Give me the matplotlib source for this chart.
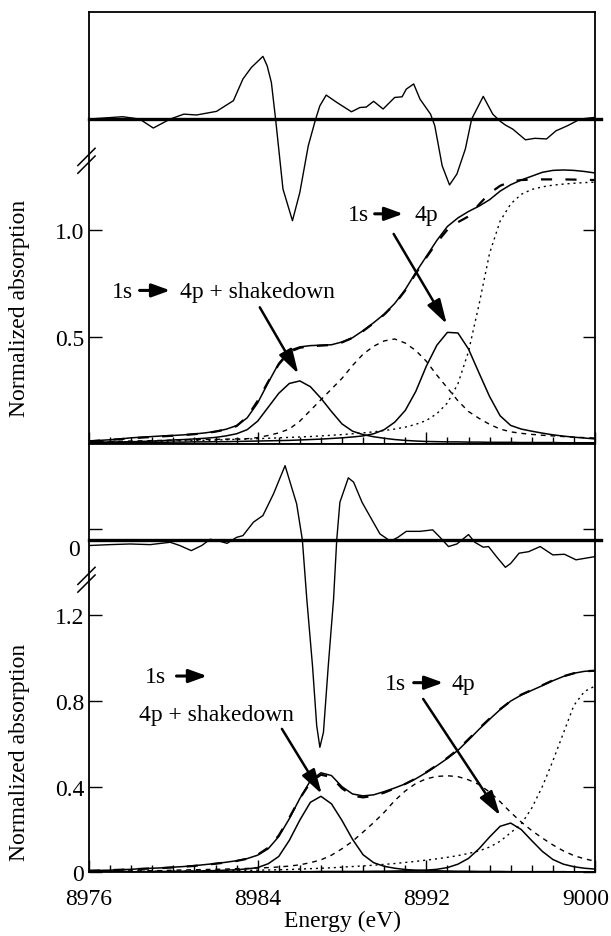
import numpy as np
import matplotlib
matplotlib.use("Agg")
import matplotlib.pyplot as plt
from matplotlib.ticker import MultipleLocator
from matplotlib.transforms import ScaledTranslation

plt.rcParams['font.family'] = ['Liberation Serif', 'DejaVu Serif']
plt.rcParams['font.size'] = 17

# energy grid (eV) shared by the fitted curves
energy = np.arange(8976, 9000.01, 0.5)

# ---- top panel ----
top_data = [0.012, 0.015, 0.018, 0.022, 0.027, 0.030, 0.033, 0.036, 0.038, 0.041,
            0.045, 0.050, 0.057, 0.067, 0.084, 0.120, 0.190, 0.285, 0.375, 0.435,
            0.452, 0.458, 0.460, 0.462, 0.475, 0.495, 0.528, 0.565, 0.605, 0.655,
            0.720, 0.800, 0.875, 0.950, 1.015, 1.055, 1.085, 1.110, 1.140, 1.180,
            1.210, 1.232, 1.250, 1.268, 1.277, 1.279, 1.277, 1.272, 1.265]
top_fit = [0.011, 0.014, 0.017, 0.021, 0.025, 0.028, 0.031, 0.034, 0.037, 0.040,
           0.044, 0.049, 0.056, 0.066, 0.082, 0.125, 0.200, 0.290, 0.370, 0.428,
           0.448, 0.455, 0.458, 0.461, 0.473, 0.494, 0.526, 0.563, 0.603, 0.652,
           0.716, 0.795, 0.870, 0.940, 1.000, 1.035, 1.062, 1.118, 1.170, 1.205,
           1.225, 1.232, 1.234, 1.235, 1.235, 1.235, 1.234, 1.233, 1.232]
top_shake = [0.006, 0.007, 0.007, 0.008, 0.009, 0.010, 0.012, 0.014, 0.017, 0.019,
             0.022, 0.025, 0.029, 0.036, 0.046, 0.065, 0.105, 0.170, 0.235, 0.281,
             0.293, 0.266, 0.212, 0.150, 0.092, 0.058, 0.042, 0.032, 0.025, 0.019,
             0.015, 0.012, 0.010, 0.009, 0.008, 0.008, 0.007, 0.007, 0.006, 0.006,
             0.006, 0.005, 0.005, 0.005, 0.005, 0.004, 0.004, 0.004, 0.004]
top_4p = [0.004, 0.004, 0.005, 0.005, 0.005, 0.005, 0.006, 0.006, 0.007, 0.007,
          0.008, 0.008, 0.009, 0.009, 0.010, 0.011, 0.012, 0.013, 0.014, 0.015,
          0.017, 0.019, 0.021, 0.024, 0.027, 0.031, 0.036, 0.046, 0.065, 0.100,
          0.155, 0.244, 0.362, 0.460, 0.520, 0.517, 0.442, 0.330, 0.220, 0.130,
          0.085, 0.068, 0.058, 0.049, 0.041, 0.035, 0.030, 0.026, 0.022]
top_mid = [0.008, 0.009, 0.010, 0.011, 0.012, 0.013, 0.014, 0.015, 0.016, 0.017,
           0.018, 0.019, 0.020, 0.021, 0.022, 0.023, 0.028, 0.038, 0.050, 0.068,
           0.105, 0.155, 0.205, 0.255, 0.305, 0.365, 0.418, 0.455, 0.480, 0.489,
           0.470, 0.435, 0.385, 0.320, 0.260, 0.200, 0.150, 0.118, 0.090, 0.068,
           0.055, 0.048, 0.043, 0.039, 0.036, 0.033, 0.030, 0.028, 0.026]
top_step = [0.005, 0.005, 0.006, 0.007, 0.008, 0.009, 0.010, 0.011, 0.012, 0.013,
            0.014, 0.015, 0.017, 0.018, 0.020, 0.021, 0.023, 0.025, 0.027, 0.029,
            0.031, 0.033, 0.036, 0.039, 0.042, 0.046, 0.050, 0.055, 0.061, 0.068,
            0.077, 0.090, 0.108, 0.140, 0.190, 0.280, 0.430, 0.650, 0.890, 1.040,
            1.120, 1.165, 1.188, 1.200, 1.208, 1.213, 1.217, 1.220, 1.222]

# residual (data - fit), drawn offset above the spectrum
top_res_e = [8976.0, 8977.6, 8978.4, 8979.05, 8979.85, 8980.5, 8981.1, 8982.05, 8982.85,
             8983.3, 8983.7, 8984.25, 8984.45, 8984.65, 8984.85, 8985.2, 8985.65, 8986.0,
             8986.4, 8986.75, 8986.95, 8987.25, 8987.75, 8988.45, 8988.85, 8989.15, 8989.5,
             8989.95, 8990.5, 8990.85, 8991.05, 8991.4, 8991.7, 8992.2, 8992.4, 8992.75,
             8993.1, 8993.45, 8993.85, 8994.15, 8994.7, 8995.15, 8995.5, 8995.75, 8996.1,
             8996.7, 8997.15, 8997.7, 8998.15, 8998.7, 8999.3, 9000.0]
top_res = [0.0, 0.011, 0.0, -0.042, 0.0, 0.023, 0.019, 0.036, 0.086,
           0.187, 0.241, 0.293, 0.249, 0.171, 0.0, -0.327, -0.475, -0.343,
           -0.125, 0.0, 0.062, 0.112, 0.078, 0.034, 0.054, 0.056, 0.083,
           0.047, 0.101, 0.104, 0.140, 0.164, 0.093, 0.023, -0.031, -0.218,
           -0.308, -0.257, -0.140, 0.0, 0.106, 0.023, -0.010, -0.028, -0.047,
           -0.097, -0.090, -0.093, -0.055, -0.031, 0.0, 0.008]
top_res_zero = 1.517
top_break = 1.326

# ---- bottom panel ----
bot_data = [0.008, 0.009, 0.010, 0.012, 0.014, 0.017, 0.019, 0.021, 0.024, 0.027,
            0.031, 0.036, 0.041, 0.047, 0.054, 0.064, 0.080, 0.110, 0.167, 0.250,
            0.345, 0.428, 0.465, 0.452, 0.400, 0.366, 0.357, 0.362, 0.377, 0.394,
            0.413, 0.437, 0.466, 0.498, 0.532, 0.570, 0.618, 0.668, 0.715, 0.760,
            0.800, 0.828, 0.850, 0.872, 0.895, 0.915, 0.930, 0.939, 0.942]
bot_fit = [0.007, 0.008, 0.010, 0.012, 0.014, 0.016, 0.018, 0.020, 0.023, 0.026,
           0.030, 0.035, 0.040, 0.046, 0.053, 0.063, 0.082, 0.115, 0.172, 0.255,
           0.345, 0.420, 0.456, 0.445, 0.392, 0.358, 0.350, 0.357, 0.372, 0.392,
           0.413, 0.438, 0.468, 0.500, 0.535, 0.574, 0.622, 0.672, 0.718, 0.762,
           0.800, 0.830, 0.852, 0.874, 0.897, 0.916, 0.930, 0.939, 0.942]
bot_shake = [0.002, 0.002, 0.002, 0.003, 0.003, 0.003, 0.004, 0.004, 0.005, 0.005,
             0.006, 0.007, 0.008, 0.010, 0.012, 0.016, 0.022, 0.040, 0.074, 0.149,
             0.244, 0.327, 0.355, 0.320, 0.242, 0.154, 0.082, 0.045, 0.028, 0.019,
             0.013, 0.010, 0.008, 0.007, 0.006, 0.005, 0.005, 0.004, 0.004, 0.004,
             0.003, 0.003, 0.003, 0.003, 0.003, 0.003, 0.002, 0.002, 0.002]
bot_4p = [0.002, 0.002, 0.002, 0.002, 0.002, 0.002, 0.002, 0.002, 0.002, 0.002,
          0.002, 0.002, 0.002, 0.002, 0.003, 0.003, 0.003, 0.003, 0.003, 0.003,
          0.003, 0.003, 0.004, 0.004, 0.004, 0.004, 0.004, 0.005, 0.005, 0.006,
          0.007, 0.008, 0.010, 0.014, 0.022, 0.038, 0.065, 0.110, 0.165, 0.215,
          0.230, 0.200, 0.148, 0.098, 0.060, 0.038, 0.026, 0.019, 0.015]
bot_mid = [0.005, 0.005, 0.006, 0.006, 0.007, 0.007, 0.008, 0.008, 0.010, 0.011,
           0.012, 0.013, 0.014, 0.015, 0.017, 0.018, 0.020, 0.022, 0.025, 0.029,
           0.035, 0.045, 0.058, 0.080, 0.110, 0.145, 0.188, 0.232, 0.280, 0.335,
           0.380, 0.415, 0.437, 0.448, 0.451, 0.447, 0.432, 0.410, 0.375, 0.330,
           0.280, 0.235, 0.195, 0.160, 0.128, 0.100, 0.078, 0.063, 0.052]
bot_step = [0.003, 0.003, 0.004, 0.004, 0.004, 0.005, 0.005, 0.005, 0.006, 0.006,
            0.006, 0.007, 0.007, 0.008, 0.008, 0.009, 0.010, 0.011, 0.012, 0.013,
            0.015, 0.017, 0.019, 0.021, 0.024, 0.027, 0.030, 0.033, 0.037, 0.041,
            0.046, 0.051, 0.057, 0.063, 0.070, 0.078, 0.088, 0.100, 0.118, 0.145,
            0.185, 0.225, 0.300, 0.400, 0.520, 0.650, 0.780, 0.845, 0.870]

bot_res_e = [8976.05, 8977.0, 8977.95, 8978.9, 8979.85, 8980.3, 8980.85, 8981.35, 8981.75,
             8982.2, 8982.55, 8983.0, 8983.3, 8983.8, 8984.25, 8984.75, 8985.3, 8985.85,
             8986.12, 8986.33, 8986.6, 8986.8, 8986.95, 8987.12, 8987.35, 8987.6, 8987.75,
             8987.9, 8988.3, 8988.55, 8988.95, 8989.35, 8989.8, 8990.3, 8990.65, 8991.05,
             8991.7, 8992.3, 8992.65, 8993.05, 8993.45, 8994.0, 8994.3, 8994.7, 8994.95,
             8995.35, 8995.75, 8996.0, 8996.4, 8996.85, 8997.4, 8998.0, 8998.55, 8999.1, 9000.0]
bot_res = [-0.026, -0.022, -0.019, -0.022, -0.011, -0.026, -0.050, -0.026, 0.003,
           -0.006, -0.016, 0.012, 0.020, 0.083, 0.114, 0.215, 0.347, 0.168,
           0.0, -0.276, -0.587, -0.868, -0.969, -0.899, -0.587, -0.276, 0.0,
           0.176, 0.290, 0.270, 0.176, 0.106, 0.028, -0.006, 0.012, 0.040,
           0.040, 0.047, 0.012, -0.031, -0.019, 0.025, -0.011, -0.034, -0.031,
           -0.081, -0.128, -0.110, -0.062, -0.055, -0.031, -0.070, -0.067, -0.093, -0.078]
bot_res_zero = 1.553
bot_break = 1.371

# ---- figure ----
W, H = 611, 937
fig = plt.figure(figsize=(W / 100, H / 100), dpi=100)
ax1 = fig.add_axes([89 / W, 1 - 444.6 / H, 506 / W, 431.3 / H])
ax2 = fig.add_axes([89 / W, 1 - 873.3 / H, 506 / W, 428.7 / H])

thin = dict(color='k', lw=1.1)


def draw_panel(ax, data, fit, shake, p4, mid, step, res_e, res, res_zero):
    ax.plot(energy, step, color='k', lw=1.0, dashes=(1.5, 2.8))
    ax.plot(energy, mid, color='k', lw=1.0, dashes=(3.5, 3.5))
    ax.plot(energy, shake, **thin)
    ax.plot(energy, p4, **thin)
    ax.plot(energy, data, **thin)
    ax.plot(energy, fit, color='k', lw=1.6, dashes=(5, 6))
    ax.axhline(res_zero, color='k', lw=2.4, clip_on=False, xmax=1.012)
    ax.plot(res_e, np.array(res) + res_zero, color='k', lw=1.0)
    ax.set_xlim(8976, 9000)
    ax.xaxis.set_major_locator(MultipleLocator(8))
    ax.xaxis.set_minor_locator(MultipleLocator(1))
    ax.tick_params(which='both', direction='in', right=True, width=1.0, labelsize=17)
    ax.tick_params(which='major', length=9)
    ax.tick_params(axis='x', which='minor', length=5)
    for s in ax.spines.values():
        s.set_linewidth(1.3)
    ax.set_ylabel('Normalized absorption', fontsize=17)


def break_mark(ax, yv, ymax):
    ya = yv / ymax
    for dy in (-0.009, 0.009):
        ax.plot([-0.022, 0.012], [ya + dy - 0.022, ya + dy + 0.018], color='k', lw=1.1,
                transform=ax.transAxes, clip_on=False)


def arrow(ax, x0, y0, x1, y1, big=False):
    if big:
        style = '-|>,head_length=0.75,head_width=0.22'
        lw = 1.8
    else:
        style = '-|>,head_length=0.55,head_width=0.2'
        lw = 2.2
    ax.annotate('', xy=(x1, y1), xytext=(x0, y0),
                arrowprops=dict(arrowstyle=style, lw=lw, color='k', shrinkA=0, shrinkB=0,
                                mutation_scale=20))


# top panel
draw_panel(ax1, top_data, top_fit, top_shake, top_4p, top_mid, top_step,
           top_res_e, top_res, top_res_zero)
ax1.set_ylim(0, 2.016)
ax1.set_yticks([0.5, 1.0])
ax1.set_yticklabels(['0.5', '1.0'])
ax1.tick_params(axis='x', labelbottom=False)
ax1.yaxis.set_label_coords(-0.117, 0.315)
break_mark(ax1, top_break, 2.016)

ax1.text(8977.1, 0.687, '1s', ha='left', va='baseline')
arrow(ax1, 8978.4, 0.716, 8979.85, 0.716)
ax1.text(8980.3, 0.687, '4p + shakedown', ha='left', va='baseline')
arrow(ax1, 8984.1, 0.637, 8985.93, 0.326, big=True)
ax1.text(8988.3, 1.045, '1s', ha='left', va='baseline')
arrow(ax1, 8989.55, 1.074, 8990.9, 1.074)
ax1.text(8991.45, 1.045, '4p', ha='left', va='baseline')
arrow(ax1, 8990.45, 0.980, 8992.97, 0.559, big=True)

# bottom panel
draw_panel(ax2, bot_data, bot_fit, bot_shake, bot_4p, bot_mid, bot_step,
           bot_res_e, bot_res, bot_res_zero)
ax2.set_ylim(0, 2.003)
ax2.set_yticks([0, 0.4, 0.8, 1.2, 1.604])
ax2.set_yticklabels(['0', '0.4', '0.8', '1.2', ''])
ax2.set_xticks([8976, 8984, 8992, 9000])
ax2.set_xticklabels(['8976', '8984', '8992', '9000'])
ax2.tick_params(axis='x', pad=11)
# keep the last energy label inside the page
last = ax2.get_xticklabels()[-1]
last.set_transform(last.get_transform() + ScaledTranslation(-9 / 100, 0, fig.dpi_scale_trans))
ax2.set_xlabel('Energy (eV)', fontsize=17, labelpad=1)
ax2.yaxis.set_label_coords(-0.117, 0.281)
ax2.text(-0.018, 1.51, '0', transform=ax2.get_yaxis_transform(), ha='right', va='center')
break_mark(ax2, bot_break, 2.003)

ax2.text(8978.65, 0.888, '1s', ha='left', va='baseline')
arrow(ax2, 8980.15, 0.917, 8981.6, 0.917)
ax2.text(8978.35, 0.713, '4p + shakedown', ha='left', va='baseline')
arrow(ax2, 8985.15, 0.670, 8987.04, 0.366, big=True)
ax2.text(8990.05, 0.857, '1s', ha='left', va='baseline')
arrow(ax2, 8991.4, 0.886, 8992.8, 0.886)
ax2.text(8993.2, 0.857, '4p', ha='left', va='baseline')
arrow(ax2, 8991.85, 0.810, 8995.5, 0.265, big=True)

fig.savefig('out.png', dpi=100)
